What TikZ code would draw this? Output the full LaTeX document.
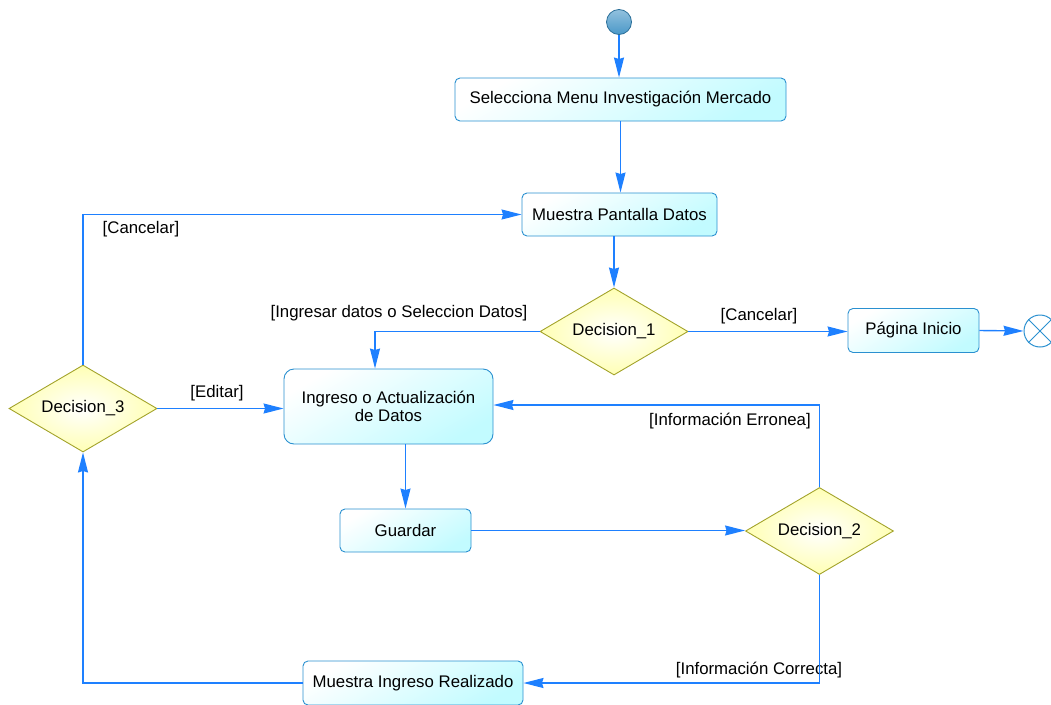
\documentclass[tikz,border=0pt]{standalone}
\usepackage{fontspec}
\setmainfont{Liberation Sans}
\usetikzlibrary{arrows.meta,shapes.geometric}
\definecolor{flow}{HTML}{1E80FF}
\definecolor{actborder}{HTML}{2A90D0}
\definecolor{actfill}{HTML}{C2FBFF}
\definecolor{decborder}{HTML}{A3A32A}
\definecolor{decfill}{HTML}{FFFFB4}
\definecolor{ballfill}{HTML}{4A98C8}
\definecolor{ballborder}{HTML}{2A6E98}

\tikzset{
  action/.style={draw=actborder, line width=0.9pt, rounded corners=5pt,
    top color=white, bottom color=actfill, shading angle=30,
    inner sep=0pt, align=center},
  decision/.style={diamond, aspect=1.7, draw=decborder, line width=0.9pt,
    inner color=white, outer color=decfill, inner sep=0pt,
    minimum width=148pt, minimum height=87pt},
  flowline/.style={draw=flow, line width=1.4pt,
    -{Stealth[length=20pt, width=10pt, inset=1.5pt]}},
  guard/.style={inner sep=0pt}
}

\begin{document}
\begin{tikzpicture}[x=1pt, y=-1pt, font=\fontsize{16.8}{18.5}\selectfont]
\useasboundingbox (0,0) rectangle (1051,704);

% initial and final nodes
\node[circle, draw=ballborder, line width=0.8pt, inner sep=0pt, minimum size=25pt,
      top color=ballfill!60!white, bottom color=ballfill] (start) at (619,22) {};
\node[circle, draw=actborder, line width=1pt, fill=white, inner sep=0pt,
      minimum size=32pt] (fin) at (1040,331) {};
\draw[actborder, line width=1pt]
  (fin.north west) -- (fin.south east)
  (fin.north east) -- (fin.south west);

% actions
\node[action, minimum width=331pt, minimum height=43pt] (sel) at (620.5,99.5)
  {Selecciona Menu Investigación Mercado};
\node[action, minimum width=195pt, minimum height=43pt] (mpd) at (619.5,214.5)
  {Muestra Pantalla Datos};
\node[action, minimum width=131pt, minimum height=44pt] (pi) at (913.5,330.5)
  {Página Inicio};
\node[action, rounded corners=10pt, minimum width=209pt, minimum height=75pt] (ing) at (388.5,406.5)
  {Ingreso o Actualización\\de Datos};
\node[action, minimum width=131pt, minimum height=43pt] (gu) at (405.5,530.5)
  {Guardar};
\node[action, minimum width=220pt, minimum height=44pt] (mir) at (413,683)
  {Muestra Ingreso Realizado};

% decisions
\node[decision] (d1) at (614,331.5) {Decision\_1};
\node[decision] (d2) at (819.5,531) {Decision\_2};
\node[decision] (d3) at (83,408.5) {Decision\_3};

% guards
\node[guard] (gcan1) at (759,316) {[Cancelar]};
\node[guard] (gingr) at (399,313) {[Ingresar datos o Seleccion Datos]};
\node[guard] (gedit) at (217,393) {[Editar]};
\node[guard] (gcan3) at (141,229) {[Cancelar]};
\node[guard] (gerr)  at (730,421) {[Información Erronea]};
\node[guard] (gcor)  at (759,670) {[Información Correcta]};

% control flows
\draw[flowline] (start.south) -- (sel.north -| start.south);
\draw[flowline] (sel.south) -- (sel.south |- mpd.north);
\draw[flowline] (d1.north |- mpd.south) -- (d1.north);
\draw[flowline] (d1.east) -- (d1.east -| pi.west);
\draw[flowline] (pi.east) -- (fin.west);
\draw[flowline] (d1.west) -| ([xshift=-13.5pt]ing.north);
\draw[flowline] (d3.east) -- (d3.east -| ing.west);
\draw[flowline] (d3.north) |- (mpd.west);
\draw[flowline] (ing.south -| gu.north) -- (gu.north);
\draw[flowline] (gu.east) -- (gu.east -| d2.west);
\draw[flowline] (d2.north) |- ([yshift=1.5pt]ing.east);
\draw[flowline] (d2.south) |- (mir.east);
\draw[flowline] (mir.west) -| (d3.south);
\end{tikzpicture}
\end{document}
